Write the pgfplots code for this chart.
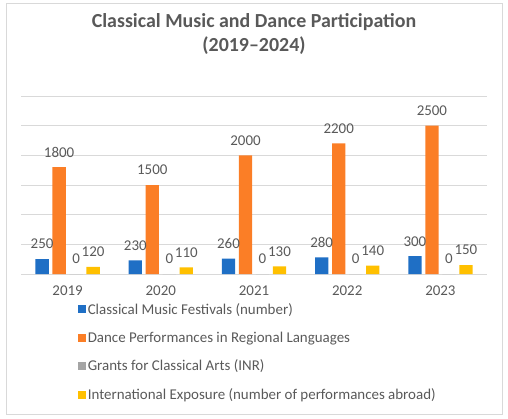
\documentclass[border=0pt]{standalone}
\usepackage{pgfplots}
\pgfplotsset{compat=1.18}
\usepackage{fontspec}
\setmainfont{Carlito}
\definecolor{gridc}{HTML}{D9D9D9}
\definecolor{txtc}{HTML}{595959}
\definecolor{cblue}{HTML}{1F6FC5}
\definecolor{corange}{HTML}{FB7E26}
\definecolor{cgrey}{HTML}{A5A5A5}
\definecolor{cyellow}{HTML}{FFC000}
\begin{document}
\begin{tikzpicture}[x=1bp,y=1bp]
\useasboundingbox (0,0) rectangle (508,418);
\draw[color=gridc, line width=1bp] (6,3.5) rectangle (502.5,414);
\node[font=\bfseries\fontsize{20}{25}\selectfont, text=txtc, align=center] at (254,384) {Classical Music and Dance Participation\\(2019--2024)};
\begin{axis}[
  at={(21bp,144bp)}, anchor=south west,
  scale only axis, width=466bp, height=178bp,
  xmin=-0.5, xmax=4.5, ymin=0, ymax=3000,
  xtick={0,1,2,3,4}, xticklabels={2019,2020,2021,2022,2023},
  ytick={0,500,...,3000}, yticklabels={},
  ymajorgrids, grid style={draw=gridc, line width=0.8bp},
  axis line style={draw=none}, major tick style={draw=none},
  ybar=3.7bp, bar width=13.3bp,
  /pgf/number format/assume math mode=true,
  /pgf/number format/1000 sep={},
  ticklabel style={font=\fontsize{15}{17}\selectfont, text=txtc},
  xticklabel style={yshift=-4bp},
  nodes near coords,
  every node near coord/.append style={anchor=center, yshift=15bp, font=\fontsize{15}{17}\selectfont, text=txtc},
  legend style={at={(axis description cs:0.115,-0.14)}, anchor=north west, draw=none, fill=none,
    font=\fontsize{15}{17}\selectfont, text=txtc, row sep=12.3bp, cells={anchor=west}},
  legend image code/.code={\fill[#1,draw=none] (0bp,-4bp) rectangle (8bp,4bp);},
  legend cell align=left,
]
\addplot[fill=cblue, draw=none] coordinates {(0,250) (1,230) (2,260) (3,280) (4,300)};
\addplot[fill=corange, draw=none] coordinates {(0,1800) (1,1500) (2,2000) (3,2200) (4,2500)};
\addplot[fill=cgrey, draw=none] coordinates {(0,0) (1,0) (2,0) (3,0) (4,0)};
\addplot[fill=cyellow, draw=none] coordinates {(0,120) (1,110) (2,130) (3,140) (4,150)};
\legend{Classical Music Festivals (number), Dance Performances in Regional Languages, Grants for Classical Arts (INR), International Exposure (number of performances abroad)}
\end{axis}
\end{tikzpicture}
\end{document}
